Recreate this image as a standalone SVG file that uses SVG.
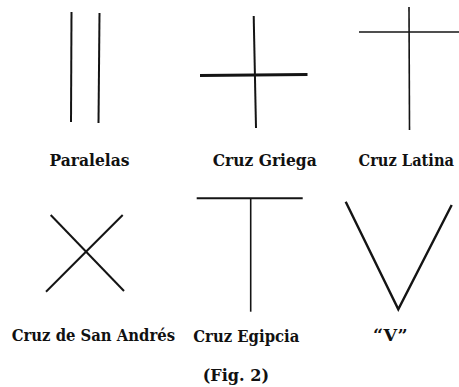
<svg xmlns="http://www.w3.org/2000/svg" width="459" height="387" viewBox="0 0 459 387">
<style>
.ln{stroke:#141414;stroke-width:2;fill:none;stroke-linecap:butt}
.thin{stroke-width:1.6}
.lbl{font-family:"DejaVu Serif","Liberation Serif",serif;font-weight:bold;font-size:17.5px;fill:#111}
</style>
<rect width="459" height="387" fill="#fff"/>
<g id="paralelas">
<line class="ln" x1="71.5" y1="12" x2="71" y2="122"/>
<line class="ln" x1="99.5" y1="13" x2="98.5" y2="123"/>
<text class="lbl" x="49.5" y="165.5" textLength="80" lengthAdjust="spacingAndGlyphs">Paralelas</text>
</g>
<g id="cruz-griega">
<line class="ln" x1="253.7" y1="16" x2="256" y2="128"/>
<line class="ln" x1="200" y1="75.5" x2="307.5" y2="74.5" style="stroke-width:2.8"/>
<text class="lbl" x="212.7" y="165.5" textLength="104" lengthAdjust="spacingAndGlyphs">Cruz Griega</text>
</g>
<g id="cruz-latina">
<line class="ln thin" x1="409" y1="7" x2="409.5" y2="130"/>
<line class="ln thin" x1="359" y1="32" x2="459" y2="32"/>
<text class="lbl" x="454" y="165.5" text-anchor="end" textLength="95.5" lengthAdjust="spacingAndGlyphs">Cruz Latina</text>
</g>
<g id="cruz-san-andres">
<line class="ln" x1="50.7" y1="215" x2="124" y2="291"/>
<line class="ln" x1="122.7" y1="215" x2="46" y2="291.7"/>
<text class="lbl" x="11.7" y="340.7" textLength="163.3" lengthAdjust="spacingAndGlyphs">Cruz de San Andrés</text>
</g>
<g id="cruz-egipcia">
<line class="ln" x1="196.7" y1="198.3" x2="302.7" y2="198.3"/>
<line class="ln thin" x1="250.7" y1="198.3" x2="250.7" y2="311.7"/>
<text class="lbl" x="193.3" y="341.5" textLength="106" lengthAdjust="spacingAndGlyphs">Cruz Egipcia</text>
</g>
<g id="v">
<polyline class="ln" points="345.7,201.7 398.3,309.3 451.7,205" style="stroke-width:2.4;stroke-linejoin:miter"/>
<text class="lbl" x="373" y="340.5" textLength="34.7" lengthAdjust="spacingAndGlyphs">“V”</text>
</g>
<text class="lbl" x="202.7" y="381" textLength="66.3" lengthAdjust="spacingAndGlyphs">(Fig. 2)</text>
</svg>
